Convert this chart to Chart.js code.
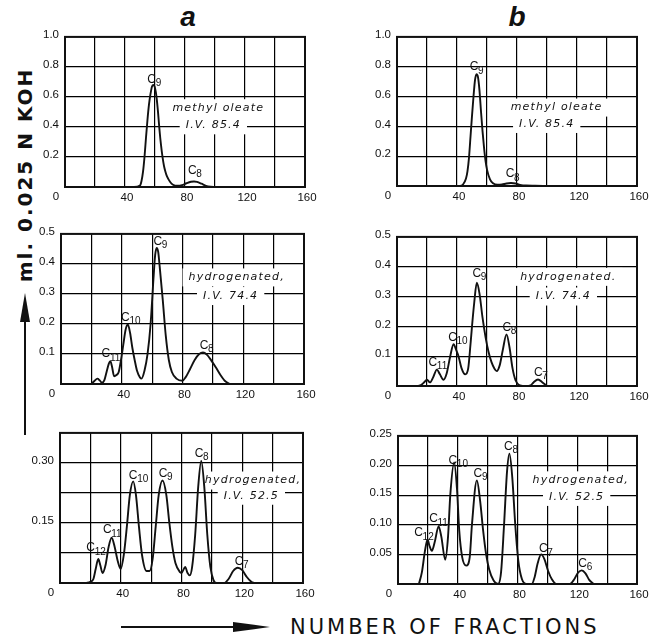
<!DOCTYPE html>
<html>
<head>
<meta charset="utf-8">
<script src="https://cdn.jsdelivr.net/npm/chart.js@4.4.1/dist/chart.umd.min.js"></script>
<style>
  body { margin: 0; background: #fff; }
  #page { position: relative; width: 650px; height: 638px; background: #fff; overflow: hidden; }
  #page canvas { position: absolute; }
  .title { position: absolute; font: italic bold 28px "Liberation Sans", sans-serif; color: #111; transform: translate(-50%, -50%); }
  #yTitle { position: absolute; left: 25px; top: 175px; transform: translate(-50%, -50%) rotate(-90deg);
    font: bold 20px "DejaVu Sans", sans-serif; letter-spacing: 2px; white-space: nowrap; color: #111; }
  #xTitle { position: absolute; left: 290px; top: 627px; transform: translateY(-50%);
    font: 21px "DejaVu Sans", sans-serif; letter-spacing: 3px; white-space: nowrap; color: #111; }
  svg { position: absolute; left: 0; top: 0; }
</style>
</head>
<body>
<div id="page">
  <div class="title" style="left:188px; top:17px">a</div>
  <div class="title" style="left:517px; top:17px">b</div>
  <div id="yTitle">ml. 0.025 N KOH</div>
  <div id="xTitle">NUMBER OF FRACTIONS</div>
  <svg width="650" height="638">
    <line x1="25" y1="435" x2="25" y2="310" stroke="#111" stroke-width="2"/>
    <polygon points="25,293 20,322 30,322" fill="#111"/>
    <line x1="121" y1="627" x2="240" y2="627" stroke="#111" stroke-width="2"/>
    <polygon points="270,627 233,622 233,632" fill="#111"/>
  </svg>
  <canvas id="aTop"></canvas>
  <canvas id="bTop"></canvas>
  <canvas id="aMid"></canvas>
  <canvas id="bMid"></canvas>
  <canvas id="aBot"></canvas>
  <canvas id="bBot"></canvas>
</div>
<script>
// fraction numbers and titration values
const aTopX = [20, 46, 50, 51, 52, 53, 54, 55, 56, 57, 58, 59, 60, 61, 62, 63, 64, 65, 66, 67, 68, 70, 72, 75, 78, 81, 84, 86, 88, 91, 94, 97, 100];
const aTopY = [0, 0, 0.01, 0.04, 0.1, 0.2, 0.33, 0.45, 0.55, 0.62, 0.67, 0.68, 0.66, 0.6, 0.5, 0.38, 0.28, 0.2, 0.14, 0.1, 0.07, 0.035, 0.015, 0.008, 0.012, 0.025, 0.035, 0.037, 0.034, 0.022, 0.008, 0.002, 0];

const bTopX = [20, 42, 44, 46, 47, 48, 49, 50, 51, 52, 53, 54, 55, 56, 57, 58, 59, 60, 62, 64, 67, 70, 73, 76, 79, 82, 86, 92, 100];
const bTopY = [0, 0, 0.01, 0.05, 0.1, 0.19, 0.33, 0.47, 0.6, 0.71, 0.75, 0.73, 0.64, 0.5, 0.37, 0.26, 0.17, 0.11, 0.045, 0.018, 0.008, 0.01, 0.017, 0.02, 0.017, 0.008, 0.003, 0.002, 0];

const aMidX = [20, 22, 24, 25.5, 27, 28.5, 30, 31.5, 32.5, 33.5, 35, 36.5, 38, 39.5, 41, 42.5, 44, 45.5, 47, 48.5, 50, 52, 53, 55, 57, 59, 61, 62, 63, 64, 65, 67, 69, 71, 73, 76, 80, 82, 85, 88, 91, 93.5, 96, 99, 102, 105, 108, 111];
const aMidY = [0, 0.01, 0.018, 0.012, 0.004, 0.012, 0.04, 0.068, 0.076, 0.06, 0.026, 0.03, 0.04, 0.08, 0.13, 0.18, 0.198, 0.17, 0.12, 0.08, 0.045, 0.022, 0.018, 0.045, 0.1, 0.2, 0.36, 0.43, 0.453, 0.44, 0.39, 0.28, 0.16, 0.08, 0.04, 0.018, 0.011, 0.022, 0.05, 0.08, 0.1, 0.105, 0.098, 0.078, 0.055, 0.03, 0.01, 0];

const bMidX = [14, 16, 18, 20, 22, 24, 26.6, 28.5, 31, 33, 35.5, 37.7, 39.5, 41, 43, 45.5, 47.5, 49, 50, 51.5, 53.2, 55, 57, 59, 61, 63, 65, 66.5, 68.5, 70.5, 73, 75, 77, 79, 82, 86, 89, 91, 94, 97, 100];
const bMidY = [0, 0.003, 0.012, 0.021, 0.012, 0.028, 0.055, 0.04, 0.021, 0.04, 0.1, 0.14, 0.12, 0.1, 0.06, 0.039, 0.06, 0.14, 0.2, 0.28, 0.346, 0.31, 0.23, 0.165, 0.115, 0.08, 0.058, 0.05, 0.07, 0.12, 0.173, 0.13, 0.06, 0.02, 0.002, 0, 0.002, 0.012, 0.022, 0.012, 0];

const aBotX = [17, 20, 22, 23.5, 25.2, 26.5, 28, 30, 32, 34, 36, 38, 40, 42, 44, 46, 48.2, 50, 52, 54, 57, 59, 61, 63, 65, 67.5, 70, 72, 74, 76, 79, 80, 82.4, 84, 85.5, 87, 89, 91, 93, 95, 97, 99, 101, 103, 108, 111, 114, 117, 120, 123, 126, 128];
const aBotY = [0, 0.003, 0.01, 0.035, 0.06, 0.045, 0.025, 0.045, 0.09, 0.113, 0.09, 0.055, 0.035, 0.07, 0.14, 0.22, 0.254, 0.22, 0.14, 0.07, 0.03, 0.03, 0.06, 0.14, 0.22, 0.256, 0.22, 0.15, 0.09, 0.05, 0.027, 0.025, 0.04, 0.025, 0.019, 0.04, 0.12, 0.24, 0.305, 0.24, 0.12, 0.04, 0.008, 0, 0, 0.01, 0.03, 0.038, 0.032, 0.015, 0.003, 0];

const bBotX = [14, 16, 18, 19.8, 21, 22.7, 24.5, 27.2, 29, 31.6, 33.5, 35, 37.6, 39.5, 41, 43, 45.7, 48, 49.5, 52.8, 55, 57, 59, 61, 64, 67, 69, 71, 73, 74.6, 76.5, 78.5, 80.5, 83, 86, 89.5, 91.5, 93.5, 95.8, 98, 100.5, 103, 106, 115, 118, 120.5, 123, 125.5, 128, 131];
const bBotY = [0, 0.02, 0.055, 0.075, 0.065, 0.056, 0.07, 0.097, 0.08, 0.041, 0.08, 0.15, 0.205, 0.16, 0.09, 0.045, 0.031, 0.045, 0.1, 0.175, 0.14, 0.09, 0.05, 0.025, 0.006, 0, 0.02, 0.1, 0.19, 0.22, 0.18, 0.1, 0.04, 0.008, 0, 0, 0.012, 0.035, 0.05, 0.042, 0.022, 0.008, 0, 0, 0.008, 0.019, 0.023, 0.018, 0.007, 0];

// tick labels
const xTickLabels = ['40', '80', '120', '160'];
const topYLabels = ['0.2', '0.4', '0.6', '0.8', '1.0'];
const midYLabels = ['0.1', '0.2', '0.3', '0.4', '0.5'];
const aBotYLabels = ['0.15', '0.30'];
const bBotYLabels = ['0.05', '0.10', '0.15', '0.20', '0.25'];

// peak names [subscript, x, y of the label]
const aTopPeaks = [['9', 57.8, 0.718], ['8', 84.9, 0.109]];
const bTopPeaks = [['9', 51.4, 0.797], ['8', 75.4, 0.081]];
const aMidPeaks = [['11', 29.6, 0.1], ['10', 42.4, 0.222], ['9', 63.7, 0.475], ['8', 94.2, 0.129]];
const bMidPeaks = [['11', 23.9, 0.079], ['10', 37.0, 0.162], ['9', 53.2, 0.377], ['8', 73.2, 0.197], ['7', 94.2, 0.046]];
const aBotPeaks = [['12', 20.2, 0.087], ['11', 31.1, 0.132], ['10', 48.2, 0.269], ['9', 67.9, 0.273], ['8', 91.6, 0.324], ['7', 117.9, 0.054]];
const bBotPeaks = [['12', 13.8, 0.086], ['11', 23.8, 0.11], ['10', 36.7, 0.209], ['9', 53.5, 0.187], ['8', 73.9, 0.232], ['7', 97.3, 0.059], ['6', 123.6, 0.035]];

// sample notes [text, x, y]
const aTopNotes = [['methyl oleate', 102.2, 0.525], ['I.V. 85.4', 98.9, 0.411]];
const bTopNotes = [['methyl oleate', 106.4, 0.526], ['I.V. 85.4', 99.8, 0.416]];
const aMidNotes = [['hydrogenated,', 115.7, 0.355], ['I.V. 74.4', 111.7, 0.293]];
const bMidNotes = [['hydrogenated.', 114.2, 0.366], ['I.V. 74.4', 110.9, 0.3]];
const aBotNotes = [['hydrogenated,', 127.1, 0.256], ['I.V. 52.5', 126.0, 0.218]];
const bBotNotes = [['hydrogenated,', 122.3, 0.175], ['I.V. 52.5', 119.6, 0.147]];

const INK = '#111';
const Y_AXIS_W = 55, X_AXIS_H = 24, PAD_TOP = 10, PAD_RIGHT = 14;

const panelDecor = {
    id: 'panelDecor',
    beforeDatasetsDraw(chart, args, opts) {
        const ctx = chart.ctx;
        const x = chart.scales.x, y = chart.scales.y;
        ctx.save();
        ctx.font = 'italic 11px "DejaVu Sans"';
        ctx.letterSpacing = '1.2px';
        ctx.textAlign = 'center';
        ctx.textBaseline = 'middle';
        opts.notes.forEach(([text, vx, vy]) => {
            const px = x.getPixelForValue(vx), py = y.getPixelForValue(vy);
            const w = ctx.measureText(text).width;
            ctx.fillStyle = '#fff';
            ctx.fillRect(px - w / 2 - 6, py - 9, w + 12, 18);
            ctx.fillStyle = INK;
            ctx.fillText(text, px, py);
        });
        ctx.restore();
    },
    afterDatasetsDraw(chart, args, opts) {
        const ctx = chart.ctx;
        const area = chart.chartArea;
        const x = chart.scales.x, y = chart.scales.y;
        ctx.save();
        ctx.strokeStyle = INK;
        ctx.lineWidth = 2;
        ctx.strokeRect(area.left, area.top, area.right - area.left, area.bottom - area.top);

        ctx.fillStyle = INK;
        opts.peaks.forEach(([sub, vx, vy]) => {
            const px = x.getPixelForValue(vx), py = y.getPixelForValue(vy);
            ctx.font = '12px "Liberation Sans"';
            ctx.textAlign = 'center';
            ctx.textBaseline = 'middle';
            ctx.fillText('C', px, py);
            ctx.font = '10px "Liberation Sans"';
            ctx.textAlign = 'left';
            ctx.fillText(sub, px + 4, py + 4);
        });

        // shared origin label
        ctx.font = '11.5px "Liberation Sans"';
        ctx.textAlign = 'center';
        ctx.textBaseline = 'top';
        ctx.fillText('0', area.left - 9, area.bottom + 4);
        ctx.restore();
    }
};

const panels = [
    { id: 'aTop', rect: [65, 34, 305, 187], xs: aTopX, ys: aTopY, yMax: 1.0, yStep: 0.2, yLabels: topYLabels, peaks: aTopPeaks, notes: aTopNotes },
    { id: 'bTop', rect: [397, 34, 637, 186], xs: bTopX, ys: bTopY, yMax: 1.0, yStep: 0.2, yLabels: topYLabels, peaks: bTopPeaks, notes: bTopNotes },
    { id: 'aMid', rect: [61, 231, 304, 384], xs: aMidX, ys: aMidY, yMax: 0.5, yStep: 0.1, yLabels: midYLabels, peaks: aMidPeaks, notes: aMidNotes },
    { id: 'bMid', rect: [397, 234, 637, 386], xs: bMidX, ys: bMidY, yMax: 0.5, yStep: 0.1, yLabels: midYLabels, peaks: bMidPeaks, notes: bMidNotes },
    { id: 'aBot', rect: [60, 430, 303, 583], xs: aBotX, ys: aBotY, yMax: 0.375, yStep: 0.075, yLabels: aBotYLabels, peaks: aBotPeaks, notes: aBotNotes },
    { id: 'bBot', rect: [398, 433, 637, 584], xs: bBotX, ys: bBotY, yMax: 0.25, yStep: 0.05, yLabels: bBotYLabels, peaks: bBotPeaks, notes: bBotNotes }
];

function drawPanel(p) {
    const [l, t, r, b] = p.rect;
    const canvas = document.getElementById(p.id);
    canvas.width = (r - l) + Y_AXIS_W + PAD_RIGHT;
    canvas.height = (b - t) + PAD_TOP + X_AXIS_H;
    canvas.style.left = (l - Y_AXIS_W) + 'px';
    canvas.style.top = (t - PAD_TOP) + 'px';

    const tickFont = { family: '"Liberation Sans"', size: 11.5 };
    new Chart(canvas, {
        type: 'line',
        data: {
            datasets: [{
                data: p.xs.map((x, i) => ({ x: x, y: p.ys[i] })),
                borderColor: INK,
                borderWidth: 1.9,
                pointRadius: 0,
                fill: false,
                cubicInterpolationMode: 'monotone'
            }]
        },
        options: {
            responsive: false,
            animation: false,
            events: [],
            layout: { padding: { top: PAD_TOP, right: PAD_RIGHT, left: 0, bottom: 0 } },
            plugins: {
                legend: { display: false },
                tooltip: { enabled: false },
                panelDecor: { peaks: p.peaks, notes: p.notes }
            },
            scales: {
                x: {
                    type: 'linear',
                    min: 0,
                    max: 160,
                    afterFit: s => { s.height = X_AXIS_H; },
                    border: { display: false },
                    grid: { color: '#000', lineWidth: 1.2, drawTicks: false },
                    ticks: {
                        stepSize: 20,
                        autoSkip: false,
                        maxRotation: 0,
                        padding: 4,
                        labelOffset: 2,
                        color: INK,
                        font: tickFont,
                        callback: v => xTickLabels.includes(String(v)) ? String(v) : ''
                    }
                },
                y: {
                    min: 0,
                    max: p.yMax,
                    afterFit: s => { s.width = Y_AXIS_W; },
                    border: { display: false },
                    grid: { color: '#000', lineWidth: 1.2, drawTicks: false },
                    ticks: {
                        stepSize: p.yStep,
                        autoSkip: false,
                        padding: 6,
                        labelOffset: -2,
                        color: INK,
                        font: tickFont,
                        callback: v => p.yLabels.find(lab => Math.abs(Number(lab) - v) < 1e-6) || ''
                    }
                }
            }
        },
        plugins: [panelDecor]
    });
}

panels.forEach(drawPanel);
</script>
</body>
</html>
